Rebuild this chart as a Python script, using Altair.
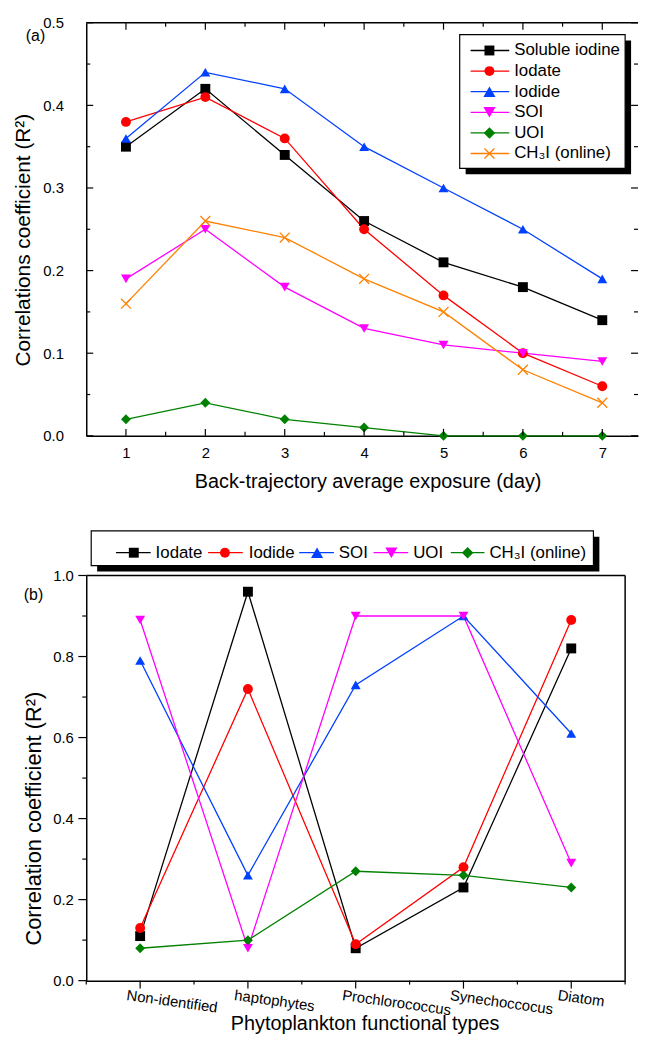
import altair as alt
import pandas as pd

# ---------------- data ----------------
days = [1, 2, 3, 4, 5, 6, 7]
series_a = ["Soluble iodine", "Iodate", "Iodide", "SOI", "UOI", "CH₃I (online)"]
soluble_a = [0.35, 0.42, 0.34, 0.26, 0.21, 0.18, 0.14]
iodate_a = [0.38, 0.41, 0.36, 0.25, 0.17, 0.10, 0.06]
iodide_a = [0.36, 0.44, 0.42, 0.35, 0.30, 0.25, 0.19]
soi_a = [0.19, 0.25, 0.18, 0.13, 0.11, 0.10, 0.09]
uoi_a = [0.02, 0.04, 0.02, 0.01, 0.00, 0.00, 0.00]
ch3i_a = [0.16, 0.26, 0.24, 0.19, 0.15, 0.08, 0.04]
values_a = [soluble_a, iodate_a, iodide_a, soi_a, uoi_a, ch3i_a]

types_b = ["Non-identified", "haptophytes", "Prochlorococcus", "Synechoccocus", "Diatom"]
series_b = ["Iodate", "Iodide", "SOI", "UOI", "CH₃I (online)"]
iodate_b = [0.11, 0.96, 0.08, 0.23, 0.82]
iodide_b = [0.13, 0.72, 0.09, 0.28, 0.89]
soi_b = [0.79, 0.26, 0.73, 0.90, 0.61]
uoi_b = [0.89, 0.08, 0.90, 0.90, 0.29]
ch3i_b = [0.08, 0.10, 0.27, 0.26, 0.23]
values_b = [iodate_b, iodide_b, soi_b, uoi_b, ch3i_b]

ticks_a_x_major = [1, 2, 3, 4, 5, 6, 7]
ticks_a_x_minor = [1.5, 2.5, 3.5, 4.5, 5.5, 6.5]
ticks_a_y_major = [0.0, 0.1, 0.2, 0.3, 0.4, 0.5]
ticks_a_y_minor = [0.05, 0.15, 0.25, 0.35, 0.45]
ticks_b_x_major = [1, 2, 3, 4, 5]
ticks_b_x_minor = [0.5, 1.5, 2.5, 3.5, 4.5, 5.5]
ticks_b_y_major = [0.0, 0.2, 0.4, 0.6, 0.8, 1.0]
ticks_b_y_minor = [0.1, 0.3, 0.5, 0.7, 0.9]

# ---------------- styles ----------------
FONT = "Liberation Sans"
XPATH = "M-1,-1L1,1M-1,1L1,-1"
colors_a = ["#000000", "#FF0000", "#0040FF", "#FF00FF", "#008000", "#FF8000"]
shapes_a = ["square", "circle", "triangle-up", "triangle-down", "diamond", XPATH]
sizes_a = [100, 100, 150, 150, 135, 100]
colors_b = ["#000000", "#FF0000", "#0040FF", "#FF00FF", "#008000"]
shapes_b = ["square", "circle", "triangle-up", "triangle-down", "diamond"]
sizes_b = [100, 100, 150, 150, 135]

W_A, H_A = 557, 417
W_B, H_B = 544, 409
LW = 1.3
TICK_FS = 15
TITLE_FS = 20
LEG_FS = 17

df_a = pd.DataFrame([{"x": d, "y": v, "s": s}
                     for s, vals in zip(series_a, values_a)
                     for d, v in zip(days, vals)])
df_b = pd.DataFrame([{"x": i + 1, "y": v, "s": s}
                     for s, vals in zip(series_b, values_b)
                     for i, v in enumerate(vals)])

one = pd.DataFrame({"t": [0]})


def tick_layers(X, Y, xmaj, xmin, ymaj, ymin, w, h, inward, sides, lmaj):
    out = []
    for vals, ln in ((xmaj, lmaj), (xmin, 4)):
        d = pd.DataFrame({"x": vals})
        if "bottom" in sides:
            y1 = h - ln if inward else h + ln
            out.append(alt.Chart(d).mark_rule(color="black", strokeWidth=1.2).encode(
                x=X, y=alt.value(h), y2=alt.value(y1)))
        if "top" in sides:
            out.append(alt.Chart(d).mark_rule(color="black", strokeWidth=1.2).encode(
                x=X, y=alt.value(0), y2=alt.value(ln)))
    for vals, ln in ((ymaj, lmaj), (ymin, 4)):
        d = pd.DataFrame({"y": vals})
        if "left" in sides:
            x1 = ln if inward else -ln
            out.append(alt.Chart(d).mark_rule(color="black", strokeWidth=1.2).encode(
                y=Y, x=alt.value(0), x2=alt.value(x1)))
        if "right" in sides:
            out.append(alt.Chart(d).mark_rule(color="black", strokeWidth=1.2).encode(
                y=Y, x=alt.value(w), x2=alt.value(w - ln)))
    return out


def legend_layers(entries, box, fs):
    x0, x1, y0, y1 = box
    out = [
        alt.Chart(one).mark_rect(fill="black").encode(
            x=alt.value(x0 + 6), x2=alt.value(x1 + 6), y=alt.value(y0 + 6), y2=alt.value(y1 + 6)),
        alt.Chart(one).mark_rect(fill="white", stroke="black", strokeWidth=1.2).encode(
            x=alt.value(x0), x2=alt.value(x1), y=alt.value(y0), y2=alt.value(y1)),
    ]
    for label, color, shape, size, lx0, lx1, sx, tx, yy in entries:
        filled = shape != XPATH
        out.append(alt.Chart(one).mark_rule(color=color, strokeWidth=LW).encode(
            x=alt.value(lx0), x2=alt.value(lx1), y=alt.value(yy)))
        out.append(alt.Chart(one).mark_point(shape=shape, filled=filled, color=color, size=size,
                                             opacity=1, strokeWidth=LW).encode(
            x=alt.value(sx), y=alt.value(yy)))
        out.append(alt.Chart(pd.DataFrame({"t": [label]})).mark_text(
            align="left", baseline="middle", fontSize=fs, color="black", font=FONT).encode(
            x=alt.value(tx), y=alt.value(yy), text="t:N"))
    return out


def panel_label(text, x, y):
    return alt.Chart(pd.DataFrame({"t": [text]})).mark_text(
        align="left", baseline="middle", fontSize=16, color="black", font=FONT).encode(
        x=alt.value(x), y=alt.value(y), text="t:N")


# ---------------- panel (a) ----------------
xa = alt.Scale(domain=[0.5, 7.45], nice=False, zero=False)
ya = alt.Scale(domain=[0, 0.5], nice=False)
X_A = alt.X("x:Q", scale=xa, axis=alt.Axis(
    values=ticks_a_x_major, ticks=False, grid=False, labelPadding=10, labelFontSize=TICK_FS,
    title="Back-trajectory average exposure (day)", titleFontSize=TITLE_FS,
    titleFontWeight="normal", titleX=284, titleY=46, titleBaseline="middle",
    titleAlign="center"))
Y_A = alt.Y("y:Q", scale=ya, axis=alt.Axis(
    values=ticks_a_y_major, format=".1f", ticks=False, grid=False, labelPadding=23,
    labelFontSize=TICK_FS, title="Correlations coefficient (R²)", titleFontSize=21,
    titleFontWeight="normal", titleX=-63, titleY=219, titleBaseline="middle",
    titleAlign="center", titleAngle=270))
col_a = alt.Color("s:N", scale=alt.Scale(domain=series_a, range=colors_a), legend=None)
size_a = alt.Size("s:N", scale=alt.Scale(domain=series_a, range=sizes_a), legend=None)

lines_a = alt.Chart(df_a).mark_line(strokeWidth=LW).encode(x=X_A, y=Y_A, color=col_a, detail="s:N")

pts_a = alt.Chart(df_a).transform_filter(
    alt.FieldOneOfPredicate(field="s", oneOf=series_a[:5])
).mark_point(filled=True, opacity=1).encode(
    x=X_A, y=Y_A, color=col_a, size=size_a,
    shape=alt.Shape("s:N", scale=alt.Scale(domain=series_a, range=shapes_a), legend=None))

xpts_a = alt.Chart(df_a).transform_filter(
    alt.FieldEqualPredicate(field="s", equal=series_a[5])
).mark_point(shape=XPATH, filled=False, size=sizes_a[5], opacity=1, strokeWidth=LW,
             color=colors_a[5]).encode(x=X_A, y=Y_A)

top_a = alt.Chart(one).mark_rule(color="black", strokeWidth=1.5).encode(
    x=alt.value(0), x2=alt.value(W_A), y=alt.value(0))

leg_a_entries = []
for i, (s, c, sh, sz) in enumerate(zip(series_a, colors_a, shapes_a, sizes_a)):
    yy = 28 + i * 20.8
    leg_a_entries.append((s, c, sh, sz, 388, 427, 407, 432, yy))

panel_a = alt.layer(
    lines_a, pts_a, xpts_a, top_a,
    *tick_layers(X_A, Y_A, ticks_a_x_major, ticks_a_x_minor,
                 ticks_a_y_major, ticks_a_y_minor, W_A, H_A, True,
                 ["bottom", "top", "left", "right"], 7),
    *legend_layers(leg_a_entries, (377, 544, 12, 147), LEG_FS),
    panel_label("(a)", -61, 13),
).properties(width=W_A, height=H_A)

# ---------------- panel (b) ----------------
xb = alt.Scale(domain=[0.5, 5.5], nice=False, zero=False)
yb = alt.Scale(domain=[0, 1.0], nice=False)
label_expr = "[" + ",".join("'%s'" % t for t in types_b) + "][datum.value - 1]"
X_B = alt.X("x:Q", scale=xb, axis=alt.Axis(
    values=ticks_b_x_major, ticks=False, grid=False, labelExpr=label_expr,
    labelAngle=8, labelAlign="left", labelBaseline="middle", labelOffset=-14,
    labelPadding=14, labelFontSize=TICK_FS, labelOverlap=False, labelBound=False,
    labelFlush=False,
    title="Phytoplankton functional types", titleFontSize=TITLE_FS, titleFontWeight="normal",
    titleX=281, titleY=43, titleBaseline="middle", titleAlign="center"))
Y_B = alt.Y("y:Q", scale=yb, axis=alt.Axis(
    values=ticks_b_y_major, format=".1f", ticks=False, grid=False, labelPadding=13,
    labelFontSize=TICK_FS, title="Correlation coefficient (R²)", titleFontSize=22,
    titleFontWeight="normal", titleX=-53, titleY=245, titleBaseline="middle",
    titleAlign="center", titleAngle=270))
col_b = alt.Color("s:N", scale=alt.Scale(domain=series_b, range=colors_b), legend=None)
size_b = alt.Size("s:N", scale=alt.Scale(domain=series_b, range=sizes_b), legend=None)

lines_b = alt.Chart(df_b).mark_line(strokeWidth=LW).encode(x=X_B, y=Y_B, color=col_b, detail="s:N")

pts_b = alt.Chart(df_b).mark_point(filled=True, opacity=1).encode(
    x=X_B, y=Y_B, color=col_b, size=size_b,
    shape=alt.Shape("s:N", scale=alt.Scale(domain=series_b, range=shapes_b), legend=None))

top_b = alt.Chart(one).mark_rule(color="black", strokeWidth=1.5).encode(
    x=alt.value(0), x2=alt.value(W_B), y=alt.value(0))
right_b = alt.Chart(one).mark_rule(color="black", strokeWidth=1.5).encode(
    x=alt.value(W_B), y=alt.value(0), y2=alt.value(H_B))

leg_b_pos = [(30, 65, 48, 70), (123, 158, 140, 164), (215, 250, 233, 255),
             (290, 325, 308, 330), (368, 402, 385, 407)]
leg_b_entries = [(s, c, sh, sz, p[0], p[1], p[2], p[3], -23)
                 for s, c, sh, sz, p in zip(series_b, colors_b, shapes_b, sizes_b, leg_b_pos)]

panel_b = alt.layer(
    lines_b, pts_b, top_b, right_b,
    *tick_layers(X_B, Y_B, ticks_b_x_major, ticks_b_x_minor,
                 ticks_b_y_major, ticks_b_y_minor, W_B, H_B, False, ["bottom", "left"], 8),
    *legend_layers(leg_b_entries, (5, 512, -45, -10), LEG_FS),
    panel_label("(b)", -63, 20),
).properties(width=W_B, height=H_B)

chart = alt.vconcat(panel_a, panel_b, spacing=141, bounds="flush").resolve_scale(
    color="independent", shape="independent", size="independent",
    x="independent", y="independent"
).properties(
    padding={"left": 5, "top": 3, "right": 0, "bottom": 0}
).configure(font=FONT).configure_axis(
    labelFont=FONT, titleFont=FONT, labelColor="black", titleColor="black",
    domainColor="black", domainWidth=1.5
).configure_view(stroke=None)

chart.save("out.html", embed_options={"renderer": "svg", "actions": False})
